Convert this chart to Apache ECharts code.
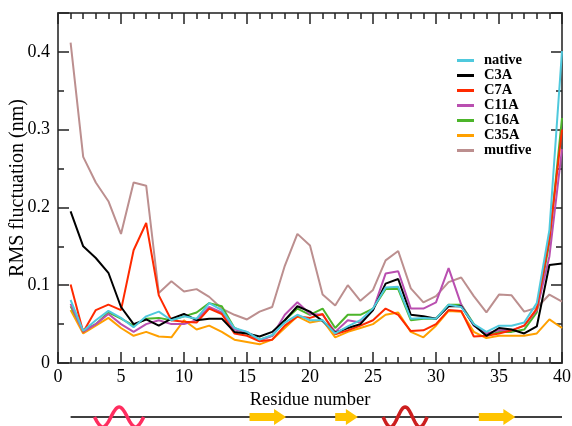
<!DOCTYPE html>
<html>
<head>
<meta charset="utf-8">
<style>
  html, body { margin: 0; padding: 0; background: #fff; }
  #rmsf { width: 572px; height: 426px; }
</style>
<script src="https://cdn.jsdelivr.net/npm/echarts@6/dist/echarts.min.js"></script>
</head>
<body>
<div id="rmsf"></div>
<script>
  // residue numbers 1..40
  const residues = [1, 2, 3, 4, 5, 6, 7, 8, 9, 10, 11, 12, 13, 14, 15, 16, 17, 18, 19, 20,
    21, 22, 23, 24, 25, 26, 27, 28, 29, 30, 31, 32, 33, 34, 35, 36, 37, 38, 39, 40];

  const nativeVals = [0.081, 0.041, 0.055, 0.067, 0.058, 0.046, 0.060, 0.066, 0.055, 0.060,
    0.057, 0.077, 0.068, 0.045, 0.040, 0.030, 0.036, 0.052, 0.062, 0.055,
    0.055, 0.038, 0.047, 0.055, 0.070, 0.097, 0.098, 0.057, 0.058, 0.057,
    0.075, 0.072, 0.050, 0.040, 0.048, 0.048, 0.052, 0.077, 0.171, 0.401];
  const c3aVals = [0.195, 0.150, 0.135, 0.116, 0.072, 0.050, 0.056, 0.048, 0.057, 0.063,
    0.055, 0.057, 0.057, 0.040, 0.038, 0.034, 0.040, 0.055, 0.073, 0.066,
    0.054, 0.039, 0.045, 0.050, 0.068, 0.102, 0.108, 0.062, 0.060, 0.057,
    0.073, 0.073, 0.049, 0.035, 0.045, 0.043, 0.038, 0.047, 0.126, 0.128];
  const c7aVals = [0.101, 0.040, 0.068, 0.075, 0.068, 0.145, 0.180, 0.087, 0.055, 0.053,
    0.052, 0.070, 0.063, 0.038, 0.035, 0.028, 0.030, 0.048, 0.060, 0.058,
    0.063, 0.037, 0.042, 0.048, 0.055, 0.070, 0.062, 0.041, 0.042, 0.050,
    0.068, 0.067, 0.034, 0.035, 0.038, 0.042, 0.048, 0.070, 0.160, 0.300];
  const c11aVals = [0.076, 0.040, 0.050, 0.063, 0.050, 0.040, 0.050, 0.055, 0.050, 0.050,
    0.055, 0.072, 0.065, 0.043, 0.040, 0.029, 0.035, 0.062, 0.078, 0.063,
    0.062, 0.040, 0.055, 0.052, 0.068, 0.115, 0.118, 0.070, 0.070, 0.078,
    0.122, 0.075, 0.048, 0.038, 0.042, 0.042, 0.048, 0.068, 0.137, 0.275];
  const c16aVals = [0.073, 0.042, 0.050, 0.065, 0.057, 0.048, 0.057, 0.058, 0.055, 0.060,
    0.065, 0.077, 0.073, 0.045, 0.038, 0.030, 0.035, 0.055, 0.070, 0.062,
    0.070, 0.045, 0.062, 0.062, 0.070, 0.095, 0.095, 0.055, 0.057, 0.057,
    0.075, 0.075, 0.050, 0.035, 0.040, 0.040, 0.043, 0.065, 0.155, 0.315];
  const c35aVals = [0.068, 0.038, 0.048, 0.058, 0.045, 0.035, 0.040, 0.034, 0.033, 0.055,
    0.043, 0.048, 0.040, 0.030, 0.027, 0.024, 0.030, 0.045, 0.060, 0.052,
    0.055, 0.033, 0.040, 0.045, 0.050, 0.062, 0.065, 0.040, 0.033, 0.048,
    0.067, 0.066, 0.040, 0.032, 0.035, 0.035, 0.035, 0.038, 0.056, 0.045];
  const mutfiveVals = [0.412, 0.265, 0.232, 0.208, 0.166, 0.232, 0.228, 0.090, 0.105, 0.092,
    0.095, 0.085, 0.070, 0.062, 0.056, 0.066, 0.072, 0.125, 0.166, 0.151,
    0.088, 0.074, 0.100, 0.080, 0.094, 0.132, 0.144, 0.096, 0.078, 0.086,
    0.104, 0.110, 0.086, 0.065, 0.088, 0.087, 0.066, 0.071, 0.088, 0.079];

  const xTicks = [0, 5, 10, 15, 20, 25, 30, 35, 40];
  const yTicks = [0, 0.1, 0.2, 0.3, 0.4];

  // secondary structure (residue ranges)
  const chainRange = [1, 40];
  const helices = [[2.9, 6.8], [25.8, 29.3]];
  const strands = [[15.2, 18.1], [22.0, 23.8], [33.4, 36.3]];

  const serif = "'Liberation Serif', 'DejaVu Serif', serif";

  function pair(vals) {
    return residues.map((r, i) => [r, vals[i]]);
  }

  function lineSeries(name, vals, color, z) {
    return {
      name: name,
      type: 'line',
      data: pair(vals),
      xAxisIndex: 0,
      yAxisIndex: 0,
      showSymbol: false,
      symbol: 'none',
      z: z,
      lineStyle: {width: 2, color: color},
      itemStyle: {color: color}
    };
  }

  // shared look of the frame axes
  const frameLine = {onZero: false, lineStyle: {color: '#555', width: 2}};
  const majorTick = {inside: true, length: 11, lineStyle: {color: '#222', width: 1.5}};

  let chart = echarts.init(document.getElementById('rmsf'));
  chart.setOption({
    animation: false,
    textStyle: {fontFamily: serif},
    legend: {
      orient: 'vertical',
      left: 452,
      top: 48,
      itemWidth: 17,
      itemHeight: 3,
      itemGap: 0,
      icon: 'rect',
      data: ['native', 'C3A', 'C7A', 'C11A', 'C16A', 'C35A', 'mutfive'],
      textStyle: {fontFamily: serif, fontWeight: 'bold', fontSize: 14.5, color: '#000',
        lineHeight: 13, padding: [0, 0, 0, 5]}
    },
    grid: [
      {left: 58, right: 10, top: 13, bottom: 63, containLabel: false, outerBoundsMode: 'none'},
      {left: 58, right: 10, top: 405, height: 24, containLabel: false, outerBoundsMode: 'none'}
    ],
    xAxis: [{
      gridIndex: 0,
      type: 'value', min: 0, max: 40, interval: 5,
      name: 'Residue number', nameLocation: 'middle', nameGap: 24,
      nameTextStyle: {fontSize: 18.5, color: '#000', fontFamily: serif},
      axisLine: frameLine,
      axisTick: majorTick,
      minorTick: {show: true, splitNumber: 5, length: 6, lineStyle: {color: '#222', width: 1.5}},
      axisLabel: {fontSize: 18, color: '#000', margin: 5,
        formatter: v => xTicks.includes(v) ? String(v) : ''},
      splitLine: {show: false}
    }, {
      gridIndex: 0, position: 'top',
      type: 'value', min: 0, max: 40, interval: 5,
      axisLine: frameLine,
      axisTick: majorTick,
      minorTick: {show: true, splitNumber: 5, length: 6, lineStyle: {color: '#222', width: 1.5}},
      axisLabel: {show: false},
      splitLine: {show: false}
    }, {
      gridIndex: 1,
      type: 'value', min: 0, max: 40, show: false
    }],
    yAxis: [{
      gridIndex: 0,
      type: 'value', min: 0, max: 0.45, interval: 0.1,
      name: 'RMS fluctuation (nm)', nameLocation: 'middle', nameGap: 30,
      nameMoveOverlap: false,
      nameTextStyle: {fontSize: 20, color: '#000', fontFamily: serif},
      axisLine: frameLine,
      axisTick: majorTick,
      minorTick: {show: true, splitNumber: 2, length: 6, lineStyle: {color: '#222', width: 1.5}},
      axisLabel: {fontSize: 18, color: '#000', margin: 8,
        formatter: v => {
          let t = yTicks.find(k => Math.abs(k - v) < 1e-6);
          return t === undefined ? '' : String(t);
        }},
      splitLine: {show: false}
    }, {
      gridIndex: 0, position: 'right',
      type: 'value', min: 0, max: 0.45, interval: 0.1,
      axisLine: frameLine,
      axisTick: majorTick,
      minorTick: {show: true, splitNumber: 2, length: 6, lineStyle: {color: '#222', width: 1.5}},
      axisLabel: {show: false},
      splitLine: {show: false}
    }, {
      gridIndex: 1,
      type: 'value', min: -1, max: 1, show: false
    }],
    series: [
      lineSeries('mutfive', mutfiveVals, '#bc8f8f', 2),
      lineSeries('C35A', c35aVals, '#ffa000', 3),
      lineSeries('C16A', c16aVals, '#4cb52a', 4),
      lineSeries('C11A', c11aVals, '#b94fb0', 5),
      lineSeries('C7A', c7aVals, '#ff2a00', 6),
      lineSeries('C3A', c3aVals, '#000000', 7),
      lineSeries('native', nativeVals, '#4fc9dd', 8),
      {
        // chain backbone
        type: 'custom', xAxisIndex: 2, yAxisIndex: 2, silent: true, z: 2,
        data: [chainRange],
        renderItem: (params, api) => {
          let a = api.coord([api.value(0), 0]);
          let b = api.coord([api.value(1), 0]);
          return {type: 'line', shape: {x1: a[0], y1: a[1], x2: b[0], y2: b[1]},
            style: {stroke: '#000', lineWidth: 1.5}};
        }
      },
      {
        // helices as sine waves
        type: 'custom', xAxisIndex: 2, yAxisIndex: 2, silent: true, z: 3,
        data: helices,
        renderItem: (params, api) => {
          let a = api.coord([api.value(0), 0]);
          let b = api.coord([api.value(1), 0]);
          let pts = [];
          for (let k = 0; k <= 60; k++) {
            let t = k / 60;
            pts.push([a[0] + (b[0] - a[0]) * t, a[1] + 10 * Math.sin(t * 3 * Math.PI)]);
          }
          let color = params.dataIndex === 0 ? '#ff2d5f' : '#cc1f1f';
          return {type: 'polyline', shape: {points: pts},
            style: {stroke: color, lineWidth: 3.5, fill: null}};
        }
      },
      {
        // strands as arrows
        type: 'custom', xAxisIndex: 2, yAxisIndex: 2, silent: true, z: 3,
        data: strands,
        renderItem: (params, api) => {
          let a = api.coord([api.value(0), 0]);
          let b = api.coord([api.value(1), 0]);
          let head = 12, body = 4, wing = 8;
          let y = a[1];
          let hx = b[0] - head;
          return {type: 'polygon', shape: {points: [
            [a[0], y - body], [hx, y - body], [hx, y - wing], [b[0], y],
            [hx, y + wing], [hx, y + body], [a[0], y + body]]},
            style: {fill: '#ffc400', stroke: null}};
        }
      }
    ]
  });
</script>
</body>
</html>
